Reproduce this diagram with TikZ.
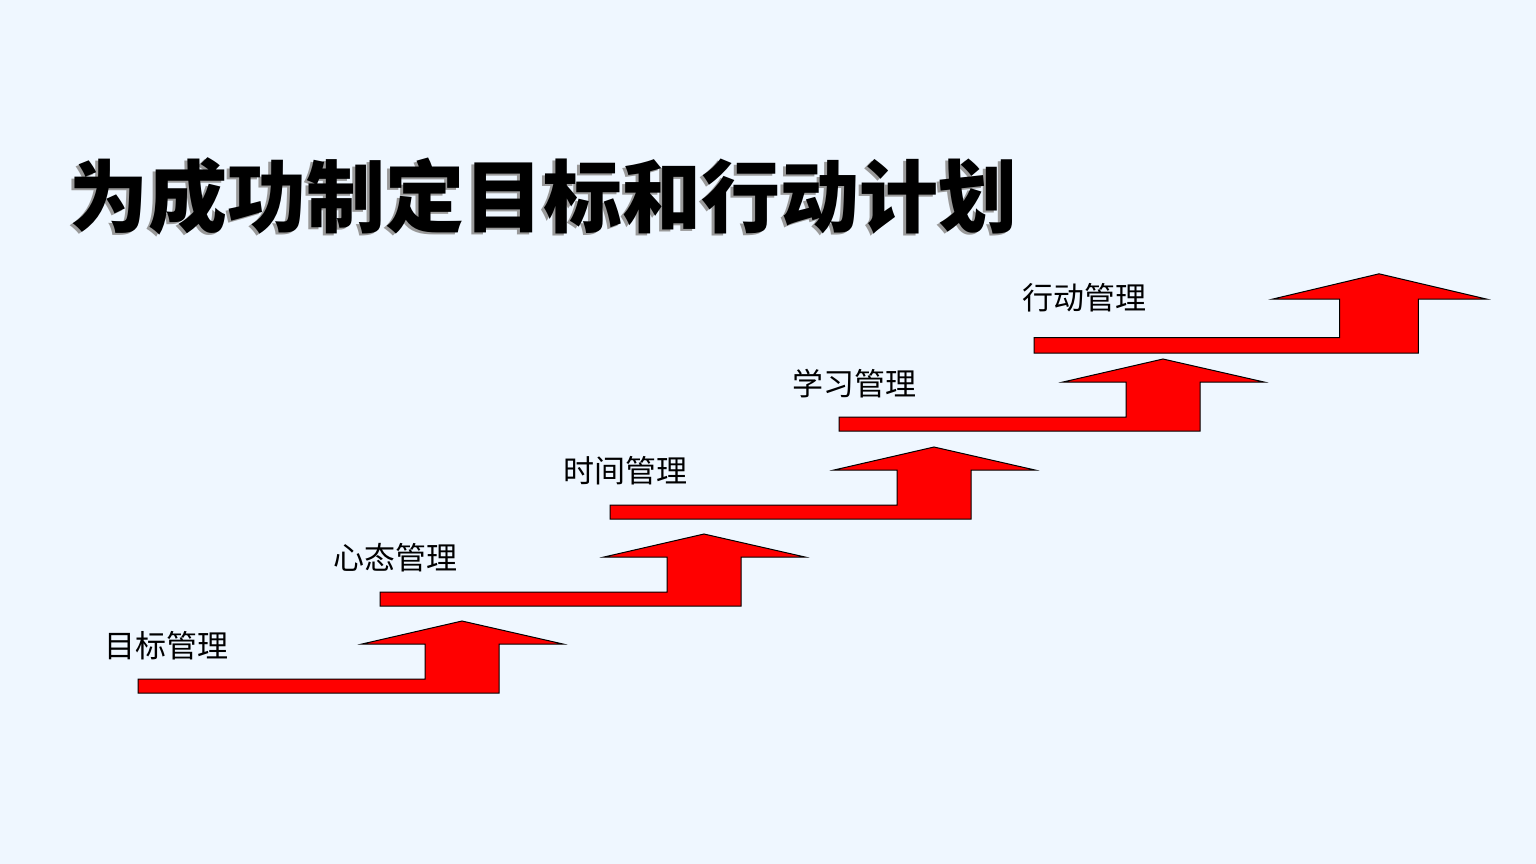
\documentclass[tikz,border=0pt]{standalone}
\usepackage{fontspec}
\newfontfamily\cjk{Noto Sans CJK SC}
\definecolor{slidebg}{RGB}{239,247,255}
\definecolor{arrowred}{RGB}{255,0,0}
\tikzset{
  stair arrow/.style={fill=arrowred, draw=black, line width=1pt, line join=miter},
  stage label/.style={font=\cjk\fontsize{31}{31}\selectfont, inner sep=0pt, anchor=center},
  title text/.style={font=\cjk\bfseries\fontsize{79}{79}\selectfont, inner sep=0pt, anchor=base west},
  pics/bentarrow/.style={code={
    \draw[stair arrow] (0,0) -- (0,-14) -- (287,-14) -- (287,-49) -- (224,-49)
      -- (324,-72) -- (425,-49) -- (361,-49) -- (361,0) -- cycle;
  }}
}
\begin{document}
\begin{tikzpicture}[x=1pt,y=-1pt]
  % background
  \fill[slidebg] (0,0) rectangle (1536,864);
  \useasboundingbox (0,0) rectangle (1536,864);

  % title with shadow
  \node[title text, text=black!40] (titleshadow) at (66.5,228.5) {为成功制定目标和行动计划};
  \node[title text] (title) at (69,226) {为成功制定目标和行动计划};

  % arrows
  \foreach \x/\y in {138/693, 380/606, 610/519, 839/431}
    \pic at (\x,\y) {bentarrow};
  \pic[xscale=1.065, yscale=1.1] at (1034,353) {bentarrow};

  % labels
  \node[stage label] (goal)   at (166,646)   {目标管理};
  \node[stage label] (mind)   at (395.5,558) {心态管理};
  \node[stage label] (time)   at (625,471)   {时间管理};
  \node[stage label] (study)  at (854.5,383.5) {学习管理};
  \node[stage label] (action) at (1084.5,297.5) {行动管理};
\end{tikzpicture}
\end{document}
